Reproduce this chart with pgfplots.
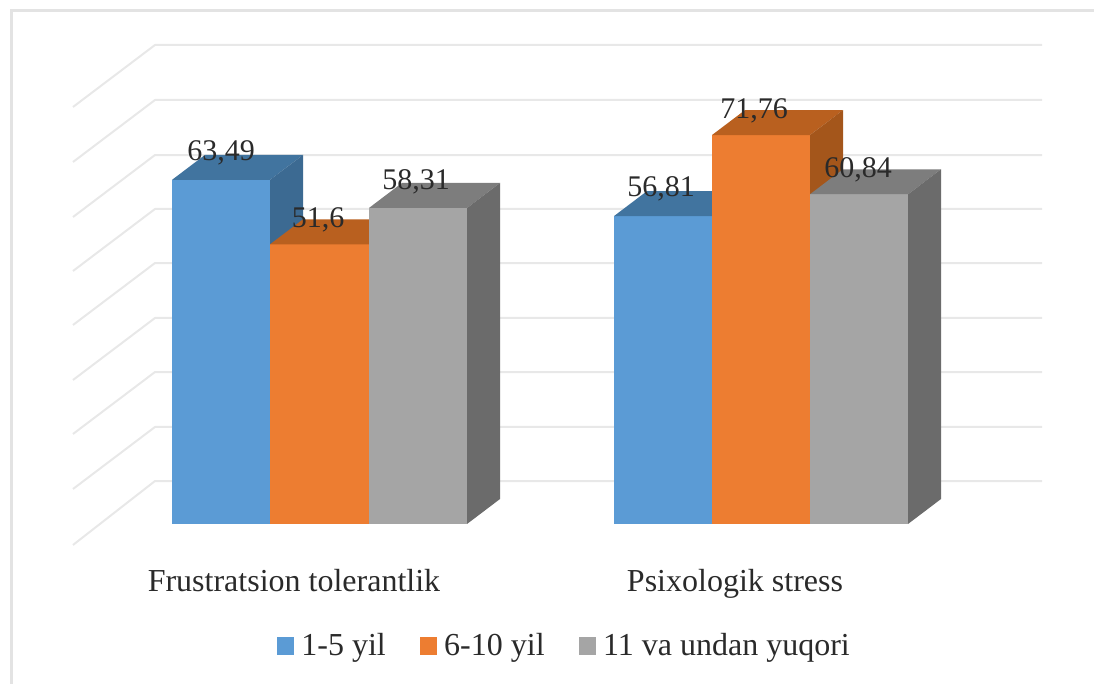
\documentclass[border=0pt]{standalone}
\usepackage{fontspec}
\setmainfont{Liberation Serif}
\usepackage{pgfplots}
\pgfplotsset{compat=1.18}
\definecolor{gridc}{HTML}{E8E8E8}
\definecolor{framec}{HTML}{E3E3E3}
\definecolor{txt}{HTML}{2A2A2A}
\definecolor{bluef}{HTML}{5B9BD5}
\definecolor{bluet}{HTML}{41749F}
\definecolor{blues}{HTML}{3C6A92}
\definecolor{orangef}{HTML}{ED7D31}
\definecolor{oranget}{HTML}{B9601F}
\definecolor{oranges}{HTML}{A4561B}
\definecolor{grayf}{HTML}{A5A5A5}
\definecolor{grayt}{HTML}{7D7D7D}
\definecolor{grays}{HTML}{6B6B6B}
% depth of the 3D bars: 33 x-units, 4.61 value-units
\newcommand{\threedbar}[5]{%
  \addplot[draw=none,fill=#5f,forget plot,mark=none] coordinates {(#1,0) (#2,0) (#2,#3) (#1,#3)} --cycle;
  \addplot[draw=none,fill=#5t,forget plot,mark=none] coordinates {(#1,#3) (#2,#3) (#2+33,#3+4.61) (#1+33,#3+4.61)} --cycle;
  \addplot[draw=none,fill=#5s,forget plot,mark=none] coordinates {(#2,0) (#2+33,4.61) (#2+33,#3+4.61) (#2,#3)} --cycle;
}
\newcommand{\gridl}[2]{%
  \addplot[gridc,line width=2pt,forget plot,line join=round,mark=none] coordinates {(73,#2) (155,#1) (1042,#1)};
}
\begin{document}
\begin{tikzpicture}
\begin{axis}[
  scale only axis,
  width=1094pt,height=684pt,
  xmin=0,xmax=1094,
  ymin=-29.52,ymax=96.68,
  hide axis,
  clip=false,
  legend style={draw=none,fill=none,at={(axis cs:277,-22.42)},anchor=west,
    legend columns=3,font=\fontsize{32}{36}\selectfont\color{txt},
    /tikz/every even column/.append style={column sep=32pt},
    inner sep=0pt,outer sep=0pt},
  legend cell align=left,
]
\path[use as bounding box] (axis cs:0,-29.52) rectangle (axis cs:1094,96.68);
\addplot[framec,line width=3pt,forget plot,mark=none] coordinates {(11,-29.52) (11,94.83) (1094,94.83)};
\gridl{88.38}{76.94}
\gridl{78.23}{66.79}
\gridl{68.08}{56.64}
\gridl{58.12}{46.68}
\gridl{48.15}{36.72}
\gridl{38.01}{26.57}
\gridl{28.04}{16.61}
\gridl{17.90}{6.46}
\gridl{7.93}{-3.87}
\threedbar{172}{270}{63.49}{}{blue}
\threedbar{270}{369}{51.6}{}{orange}
\threedbar{369}{467}{58.31}{}{gray}
\threedbar{614}{712}{56.81}{}{blue}
\threedbar{712}{810}{71.76}{}{orange}
\threedbar{810}{908}{60.84}{}{gray}
\addlegendimage{legend image code/.code={\fill[bluef] (0pt,-8.5pt) rectangle (16pt,8.5pt);\path (22pt,0pt);}}
\addlegendentry{1-5 yil}
\addlegendimage{legend image code/.code={\fill[orangef] (0pt,-8.5pt) rectangle (16pt,8.5pt);\path (22pt,0pt);}}
\addlegendentry{6-10 yil}
\addlegendimage{legend image code/.code={\fill[grayf] (0pt,-8.5pt) rectangle (16pt,8.5pt);\path (22pt,0pt);}}
\addlegendentry{11 va undan yuqori}
\begin{scope}[every node/.style={text=txt,anchor=base,inner sep=0pt}]
\node[font=\fontsize{30}{36}\selectfont] at (axis cs:221,{(524-161)/5.42}) {63,49};
\node[font=\fontsize{30}{36}\selectfont] at (axis cs:318,{(524-228)/5.42}) {51,6};
\node[font=\fontsize{30}{36}\selectfont] at (axis cs:416,{(524-189)/5.42}) {58,31};
\node[font=\fontsize{30}{36}\selectfont] at (axis cs:661,{(524-197)/5.42}) {56,81};
\node[font=\fontsize{30}{36}\selectfont] at (axis cs:754,{(524-118)/5.42}) {71,76};
\node[font=\fontsize{30}{36}\selectfont] at (axis cs:858,{(524-177)/5.42}) {60,84};
\node[font=\fontsize{32}{36}\selectfont] at (axis cs:294,{(524-592)/5.42}) {Frustratsion tolerantlik};
\node[font=\fontsize{32}{36}\selectfont] at (axis cs:735,{(524-592)/5.42}) {Psixologik stress};
\end{scope}
\end{axis}
\end{tikzpicture}
\end{document}
